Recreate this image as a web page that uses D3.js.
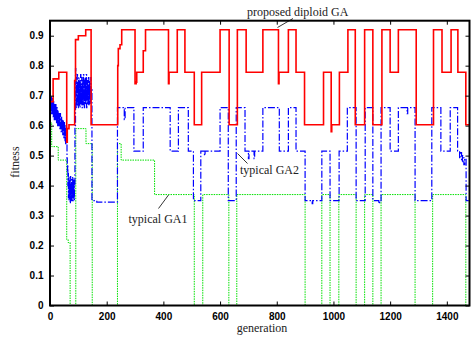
<!DOCTYPE html>
<html>
<head>
<meta charset="utf-8">
<script src="https://cdn.jsdelivr.net/npm/d3@7"></script>
<style>
  body { margin: 0; background: #fff; }
  .tick text { font-family: "Liberation Sans", Arial, sans-serif; font-weight: bold; font-size: 10px; fill: #000; }
  .lbl { font-family: "Liberation Serif", "Times New Roman", serif; font-size: 12px; fill: #222; }
</style>
</head>
<body>
<svg id="chart" width="471" height="338"></svg>
<script>
// ---------- data (generation, fitness) step points ----------
const xTicks = [0, 200, 400, 600, 800, 1000, 1200, 1400];
const yTicks = [0, 0.1, 0.2, 0.3, 0.4, 0.5, 0.6, 0.7, 0.8, 0.9];

const proposedGA = [
  [0, 0.68], [11, 0.756], [31, 0.778], [59, 0.545], [61, 0.59], [67, 0.603], [87, 0.75], [90, 0.887],
  [100, 0.9], [126, 0.92], [145, 0.603], [239, 0.8], [241, 0.857], [247, 0.87], [253, 0.92],
  [300, 0.74], [304, 0.745], [306, 0.778], [329, 0.85], [337, 0.92], [418, 0.74], [420, 0.778],
  [449, 0.92], [476, 0.778], [509, 0.603], [535, 0.778], [600, 0.92], [632, 0.603], [661, 0.92],
  [692, 0.778], [751, 0.92], [806, 0.74], [808, 0.778], [841, 0.92], [868, 0.778], [898, 0.603],
  [965, 0.778], [992, 0.58], [994, 0.603], [1021, 0.778], [1051, 0.92], [1077, 0.603], [1110, 0.92],
  [1139, 0.603], [1171, 0.92], [1200, 0.778], [1229, 0.92], [1292, 0.603], [1353, 0.92],
  [1383, 0.778], [1415, 0.92], [1439, 0.778], [1467, 0.603], [1480, 0.603]
];

const typicalGA2 = [
  [0, 0.70], [1, 0.65], [2, 0.69], [3, 0.64], [4, 0.70], [5, 0.65], [6, 0.68], [7, 0.64],
  [8, 0.69], [9, 0.64], [10, 0.67], [11, 0.63], [12, 0.68], [13, 0.64], [14, 0.67], [15, 0.62],
  [16, 0.67], [17, 0.63], [18, 0.66], [19, 0.62], [20, 0.67], [21, 0.62], [22, 0.65], [23, 0.61],
  [24, 0.66], [25, 0.62], [26, 0.65], [27, 0.60], [28, 0.65], [29, 0.61], [30, 0.64], [31, 0.60],
  [32, 0.64], [33, 0.60], [34, 0.63], [35, 0.59], [36, 0.64], [37, 0.60], [38, 0.62], [39, 0.58],
  [40, 0.63], [41, 0.59], [42, 0.62], [43, 0.58], [44, 0.61], [45, 0.57], [46, 0.62], [47, 0.58],
  [48, 0.60], [49, 0.56], [50, 0.61], [51, 0.57], [52, 0.60], [53, 0.55], [54, 0.59], [55, 0.54],
  [56, 0.59], [57, 0.55], [58, 0.57],
  [60, 0.49], [61, 0.45], [62, 0.47], [63, 0.40], [64, 0.44], [65, 0.36], [66, 0.43], [67, 0.35],
  [68, 0.42], [69, 0.36], [70, 0.41], [71, 0.34], [72, 0.43], [73, 0.36], [74, 0.40], [75, 0.35],
  [76, 0.42], [77, 0.35], [78, 0.39], [79, 0.36], [80, 0.43], [81, 0.35], [82, 0.41], [83, 0.36],
  [84, 0.42], [85, 0.35], [86, 0.40],
  [88, 0.60], [90, 0.79], [91, 0.67], [92, 0.76], [93, 0.66], [94, 0.74], [95, 0.68], [96, 0.77],
  [97, 0.67], [98, 0.73], [99, 0.66], [100, 0.75], [101, 0.68], [102, 0.76], [103, 0.67], [104, 0.72],
  [105, 0.66], [106, 0.75], [107, 0.69], [108, 0.77], [109, 0.67], [110, 0.73], [111, 0.68],
  [112, 0.76], [113, 0.66], [114, 0.74], [115, 0.69], [116, 0.75], [117, 0.67], [118, 0.77],
  [119, 0.68], [120, 0.72], [121, 0.66], [122, 0.75], [123, 0.69], [124, 0.76], [125, 0.67],
  [126, 0.73], [127, 0.68], [128, 0.77], [129, 0.66], [130, 0.74], [131, 0.69], [132, 0.75],
  [133, 0.67], [134, 0.72], [135, 0.68], [136, 0.76], [137, 0.67], [138, 0.74], [139, 0.69],
  [140, 0.75], [141, 0.67], [142, 0.73], [143, 0.68], [144, 0.76], [145, 0.69], [146, 0.72],
  [148, 0.35], [165, 0.345], [238, 0.66], [262, 0.62], [265, 0.66], [296, 0.515], [329, 0.66],
  [424, 0.515], [453, 0.66], [488, 0.515], [506, 0.35], [532, 0.515], [545, 0.50], [547, 0.515],
  [600, 0.66], [629, 0.35], [657, 0.66], [688, 0.515], [700, 0.49], [702, 0.515], [720, 0.49],
  [722, 0.515], [751, 0.66], [809, 0.515], [841, 0.66], [868, 0.515], [900, 0.35], [925, 0.34],
  [927, 0.35], [959, 0.515], [988, 0.35], [1020, 0.515], [1049, 0.66], [1080, 0.35], [1112, 0.66],
  [1139, 0.35], [1160, 0.34], [1163, 0.35], [1168, 0.66], [1200, 0.515], [1229, 0.66], [1260, 0.64],
  [1262, 0.66], [1288, 0.35], [1347, 0.66], [1379, 0.515], [1412, 0.66], [1438, 0.515], [1445, 0.49],
  [1447, 0.51], [1452, 0.48], [1455, 0.50], [1460, 0.47], [1463, 0.49], [1468, 0.35], [1480, 0.35]
];

const typicalGA1 = [
  [0, 0.61], [6, 0.53], [29, 0.485], [59, 0.22], [64, 0.21], [71, 0], [91, 0.59], [127, 0.54],
  [149, 0], [238, 0.54], [251, 0.485], [369, 0.37], [509, 0], [539, 0.37], [631, 0], [659, 0.37],
  [900, 0], [959, 0.37], [988, 0], [1019, 0.37], [1080, 0], [1110, 0.37], [1139, 0], [1168, 0.37],
  [1288, 0], [1350, 0.37], [1467, 0], [1480, 0]
];

// ---------- layout ----------
const svg = d3.select('#chart');
const m = { left: 50, right: 469.5, top: 20.7, bottom: 305.5 };

const x = d3.scaleLinear().domain([0, 1480]).range([m.left, m.right]);
const y = d3.scaleLinear().domain([0, 0.95]).range([m.bottom, m.top]);

const line = d3.line()
  .x(d => x(d[0]))
  .y(d => y(d[1]))
  .curve(d3.curveStepAfter);

svg.append('clipPath').attr('id', 'clip')
  .append('rect').attr('x', m.left).attr('y', m.top)
  .attr('width', m.right - m.left).attr('height', m.bottom - m.top);

const series = svg.append('g').attr('clip-path', 'url(#clip)');

series.append('path').datum(typicalGA1)
  .attr('d', line).attr('fill', 'none')
  .attr('stroke', '#00e000').attr('stroke-width', 1)
  .attr('stroke-dasharray', '1.5,1');

series.append('path').datum(typicalGA2)
  .attr('d', line).attr('fill', 'none')
  .attr('stroke', '#0000ff').attr('stroke-width', 1.2)
  .attr('stroke-dasharray', '7,2,1.5,2');

series.append('path').datum(proposedGA)
  .attr('d', line).attr('fill', 'none')
  .attr('stroke', '#ff0000').attr('stroke-width', 1.6);

// ---------- axes (ticks inside, mirrored) ----------
svg.append('g').attr('transform', `translate(0,${m.bottom})`)
  .call(d3.axisBottom(x).tickValues(xTicks).tickSize(-4).tickPadding(7).tickFormat(d3.format('d')))
  .call(g => g.select('.domain').remove());

svg.append('g').attr('transform', `translate(0,${m.top})`)
  .call(d3.axisTop(x).tickValues(xTicks).tickSize(-4).tickFormat(''))
  .call(g => g.select('.domain').remove());

svg.append('g').attr('transform', `translate(${m.left},0)`)
  .call(d3.axisLeft(y).tickValues(yTicks).tickSize(-4).tickPadding(6.5)
    .tickFormat(d => d === 0 ? '0' : d3.format('.1f')(d)))
  .call(g => g.select('.domain').remove());

svg.append('g').attr('transform', `translate(${m.right},0)`)
  .call(d3.axisRight(y).tickValues(yTicks).tickSize(-4).tickFormat(''))
  .call(g => g.select('.domain').remove());

svg.selectAll('.tick line').attr('stroke', '#000').attr('stroke-width', 1);

// frame
svg.append('rect')
  .attr('x', m.left).attr('y', m.top).attr('width', m.right - m.left).attr('height', m.bottom - m.top)
  .attr('fill', 'none').attr('stroke', '#000').attr('stroke-width', 2);

// ---------- axis titles ----------
svg.append('text').attr('class', 'lbl')
  .attr('transform', 'translate(19,162) rotate(-90)')
  .attr('text-anchor', 'middle').text('fitness');

svg.append('text').attr('class', 'lbl')
  .attr('x', 262).attr('y', 332)
  .attr('text-anchor', 'middle').text('generation');

// ---------- series labels with leader lines ----------
const notes = svg.append('g');
notes.append('text').attr('class', 'lbl').attr('x', 247).attr('y', 16).text('proposed diploid GA');
notes.append('line').attr('x1', 277.5).attr('y1', 27.5).attr('x2', 293).attr('y2', 18.5);

notes.append('text').attr('class', 'lbl').attr('x', 240).attr('y', 174).text('typical GA2');
notes.append('line').attr('x1', 237.5).attr('y1', 153.5).attr('x2', 247.5).attr('y2', 163.5);

notes.append('text').attr('class', 'lbl').attr('x', 128.5).attr('y', 222.5).text('typical GA1');
notes.append('line').attr('x1', 158.5).attr('y1', 208.5).attr('x2', 168.5).attr('y2', 195);

notes.selectAll('line').attr('stroke', '#000').attr('stroke-width', 0.8);
</script>
</body>
</html>
